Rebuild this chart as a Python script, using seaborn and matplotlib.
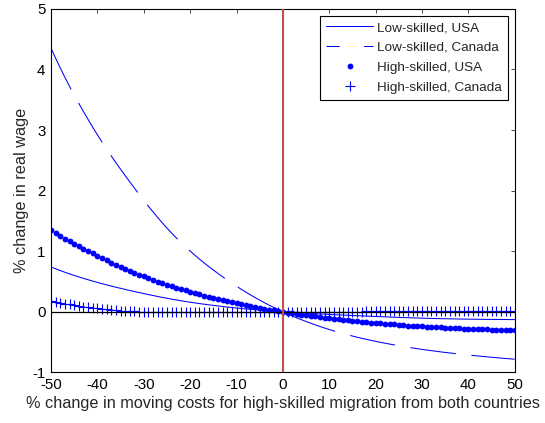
import numpy as np
import pandas as pd
import matplotlib
matplotlib.use("Agg")
import matplotlib.pyplot as plt
from matplotlib.lines import Line2D
import seaborn as sns

# ---- data ----
x_vals = list(range(-50, 51))

low_usa = [0.740, 0.710, 0.681, 0.653, 0.626, 0.600, 0.576, 0.552, 0.529, 0.507,
           0.485, 0.465, 0.445, 0.425, 0.406, 0.388, 0.370, 0.352, 0.335, 0.318,
           0.301, 0.285, 0.269, 0.253, 0.238, 0.224, 0.209, 0.196, 0.183, 0.170,
           0.159, 0.147, 0.136, 0.126, 0.116, 0.106, 0.097, 0.088, 0.079, 0.071,
           0.063, 0.055, 0.048, 0.041, 0.034, 0.028, 0.022, 0.016, 0.010, 0.005,
           0.000,
           -0.005, -0.010, -0.014, -0.019, -0.023, -0.027, -0.031, -0.035, -0.039, -0.043,
           -0.047, -0.050, -0.054, -0.057, -0.061, -0.064, -0.067, -0.071, -0.074, -0.077,
           -0.080, -0.083, -0.086, -0.089, -0.092, -0.095, -0.097, -0.100, -0.102, -0.105,
           -0.107, -0.109, -0.111, -0.113, -0.114, -0.116, -0.117, -0.119, -0.120, -0.121,
           -0.122, -0.123, -0.124, -0.125, -0.125, -0.126, -0.127, -0.127, -0.128, -0.128]

low_canada = [4.352, 4.185, 4.024, 3.869, 3.720, 3.577, 3.439, 3.305, 3.174, 3.046,
              2.923, 2.802, 2.685, 2.571, 2.460, 2.353, 2.247, 2.144, 2.041, 1.940,
              1.840, 1.743, 1.648, 1.557, 1.468, 1.383, 1.300, 1.221, 1.145, 1.072,
              1.003, 0.936, 0.871, 0.808, 0.748, 0.690, 0.633, 0.578, 0.525, 0.473,
              0.422, 0.373, 0.326, 0.280, 0.235, 0.193, 0.151, 0.111, 0.073, 0.036,
              0.000,
              -0.034, -0.068, -0.100, -0.130, -0.160, -0.188, -0.216, -0.242, -0.268, -0.292,
              -0.316, -0.338, -0.360, -0.380, -0.400, -0.419, -0.437, -0.454, -0.471, -0.487,
              -0.503, -0.518, -0.532, -0.546, -0.560, -0.573, -0.585, -0.597, -0.609, -0.620,
              -0.631, -0.641, -0.651, -0.661, -0.670, -0.679, -0.688, -0.696, -0.705, -0.713,
              -0.721, -0.728, -0.736, -0.743, -0.750, -0.757, -0.764, -0.770, -0.776, -0.782]

high_usa = [1.343, 1.298, 1.254, 1.210, 1.167, 1.125, 1.083, 1.042, 1.002, 0.963,
            0.925, 0.887, 0.850, 0.814, 0.779, 0.745, 0.711, 0.679, 0.647, 0.615,
            0.585, 0.556, 0.527, 0.500, 0.473, 0.448, 0.423, 0.399, 0.375, 0.352,
            0.330, 0.309, 0.288, 0.267, 0.247, 0.228, 0.209, 0.191, 0.173, 0.156,
            0.140, 0.124, 0.109, 0.094, 0.079, 0.065, 0.051, 0.038, 0.025, 0.012,
            0.000,
            -0.012, -0.023, -0.035, -0.046, -0.056, -0.067, -0.077, -0.086, -0.096, -0.105,
            -0.114, -0.122, -0.131, -0.139, -0.147, -0.155, -0.162, -0.170, -0.177, -0.184,
            -0.190, -0.197, -0.203, -0.209, -0.215, -0.220, -0.226, -0.231, -0.236, -0.241,
            -0.246, -0.250, -0.254, -0.258, -0.262, -0.266, -0.269, -0.273, -0.276, -0.279,
            -0.282, -0.285, -0.287, -0.290, -0.292, -0.295, -0.297, -0.299, -0.301, -0.303]

high_canada = [0.180, 0.165, 0.150, 0.136, 0.123, 0.110, 0.098, 0.087, 0.076, 0.066,
               0.057, 0.048, 0.040, 0.033, 0.026, 0.020, 0.015, 0.010, 0.006, 0.003,
               0.000, -0.002, -0.004, -0.006, -0.007, -0.008, -0.009, -0.009, -0.010, -0.010,
               -0.010, -0.010, -0.010, -0.010, -0.010, -0.010, -0.010, -0.010, -0.010, -0.010,
               -0.010, -0.009, -0.008, -0.007, -0.006, -0.005, -0.004, -0.003, -0.002, -0.001,
               0.000,
               0.001, 0.002, 0.002, 0.003, 0.003, 0.003, 0.004, 0.004, 0.004, 0.004,
               0.005, 0.005, 0.005, 0.005, 0.005, 0.005, 0.005, 0.006, 0.006, 0.006,
               0.006, 0.006, 0.006, 0.006, 0.006, 0.006, 0.007, 0.007, 0.007, 0.007,
               0.007, 0.007, 0.007, 0.007, 0.007, 0.007, 0.007, 0.007, 0.008, 0.008,
               0.008, 0.008, 0.008, 0.008, 0.008, 0.008, 0.008, 0.008, 0.008, 0.008]

series_labels = ["Low-skilled, USA", "Low-skilled, Canada",
                 "High-skilled, USA", "High-skilled, Canada"]
x_ticks = [-50, -40, -30, -20, -10, 0, 10, 20, 30, 40, 50]
y_ticks = [-1, 0, 1, 2, 3, 4, 5]
x_label = "% change in moving costs for high-skilled migration from both countries"
y_label = "% change in real wage"

# ---- style ----
sns.set_style("white")
plt.rcParams['font.family'] = ['Liberation Sans', 'DejaVu Sans']
plt.rcParams['axes.unicode_minus'] = False
FS_TICK = 10.8
FS_LABEL = 11.7
FS_LEG = 9.7

df = pd.DataFrame({"x": x_vals, "low_usa": low_usa, "low_canada": low_canada,
                   "high_usa": high_usa, "high_canada": high_canada})

fig = plt.figure(figsize=(5.45, 4.23), dpi=100)
ax = fig.add_axes([0.0936, 0.1196, 0.851, 0.8594])

blue = (0, 0, 1)
lw = 0.75
dot_ms = 4.2
plus_ms = 7
plus_mew = 0.8
sns.lineplot(data=df, x="x", y="low_usa", ax=ax, color=blue, lw=lw, label=series_labels[0])
sns.lineplot(data=df, x="x", y="low_canada", ax=ax, color=blue, lw=lw,
             linestyle=(0, (44, 15)), label=series_labels[1])
sns.lineplot(data=df, x="x", y="high_usa", ax=ax, color=blue, linestyle='',
             marker='o', markersize=dot_ms, markeredgewidth=0, markeredgecolor=blue,
             label=series_labels[2])
sns.lineplot(data=df, x="x", y="high_canada", ax=ax, color=blue, linestyle='',
             marker='+', markersize=plus_ms, markeredgewidth=plus_mew, markeredgecolor=blue,
             label=series_labels[3])

ax.axhline(0, color='black', lw=0.9, zorder=5)
ax.axvline(0, color='#C0504D', lw=1.5, zorder=6)

ax.set_xlim(-50, 50)
ax.set_ylim(-1, 5)
ax.set_xticks(x_ticks)
ax.set_yticks(y_ticks)
ax.set_xlabel(x_label, fontsize=FS_LABEL, labelpad=3)
ax.set_ylabel(y_label, fontsize=FS_LABEL, labelpad=2)
ax.tick_params(direction='in', top=True, right=True, length=3, width=0.5,
               labelsize=FS_TICK, colors='black', pad=4)
for s in ax.spines.values():
    s.set_color('black')
    s.set_linewidth(0.8)

handles = [
    Line2D([], [], color=blue, lw=lw),
    Line2D([], [], color=blue, lw=lw, linestyle=(0, (12.5, 23.5))),
    Line2D([], [], color=blue, linestyle='', marker='o', markersize=dot_ms, markeredgewidth=0),
    Line2D([], [], color=blue, linestyle='', marker='+', markersize=plus_ms, markeredgewidth=plus_mew),
]
leg = ax.legend(handles, series_labels, loc='upper right', fontsize=FS_LEG,
                frameon=True, fancybox=False, edgecolor='black', framealpha=1,
                handlelength=3.5, handletextpad=0.3, labelspacing=0.55,
                borderpad=0.45, borderaxespad=0.5, numpoints=1)
leg.get_frame().set_linewidth(0.8)

fig.savefig("out.png", dpi=100, facecolor='white')
